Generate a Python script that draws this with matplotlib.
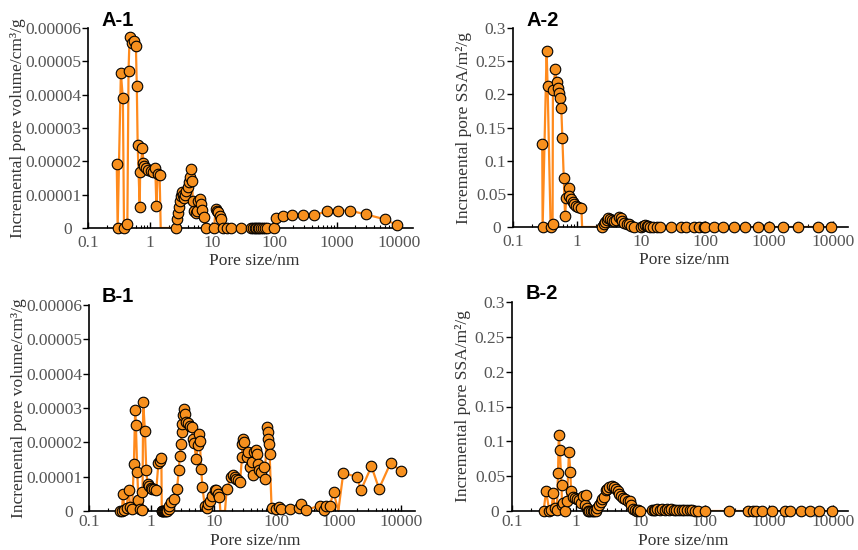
import matplotlib
matplotlib.use("Agg")
import matplotlib.pyplot as plt
import matplotlib.transforms as mtransforms
import numpy as np

# ---- data (pore size in nm) ----
# A-1: incremental pore volume (x1e-5 cm3/g)
a1_size = [0.29, 0.30, 0.338, 0.364, 0.38, 0.43, 0.449, 0.467, 0.51, 0.56, 0.59, 0.61,
           0.63, 0.68, 0.69, 0.75, 0.78, 0.80, 0.87, 0.94, 1.03, 1.11, 1.21, 1.26, 1.32, 1.42,
           2.56, 2.66, 2.78, 2.9, 3.0, 3.1, 3.2, 3.36, 3.5, 3.6, 3.75, 4.04, 4.2, 4.36, 4.59,
           4.75, 4.85, 5.1, 5.4, 5.7, 6.0, 6.3, 6.6, 6.9, 7.3, 7.8,
           10.7, 11.3, 11.8, 12.5, 13.2, 13.9, 15, 17, 19.8, 28.7,
           41.8, 45, 48, 51, 54, 57, 60, 65, 70, 75, 97.5,
           105, 140, 190, 290, 430, 690, 1050, 1640, 2960, 6000, 9500]
a1_vol = [1.93, 0, 4.65, 3.89, 0, 0.12, 4.72, 5.72, 5.55, 5.62, 5.45, 4.25,
          2.49, 0.64, 1.67, 2.39, 1.96, 1.85, 1.79, 1.74, 1.71, 1.69, 1.79, 0.67, 1.61, 1.59,
          0, 0.27, 0.44, 0.62, 0.82, 0.97, 1.07, 1.0, 0.9, 1.0, 1.1, 1.22, 1.37, 1.52, 1.78,
          1.40, 0.82, 0.5, 0.45, 0.52, 0.8, 0.87, 0.72, 0.55, 0.32, 0,
          0, 0.57, 0.52, 0.48, 0.37, 0.27, 0, 0, 0, 0,
          0, 0, 0, 0, 0, 0, 0, 0, 0, 0, 0,
          0.31, 0.36, 0.38, 0.40, 0.38, 0.50, 0.52, 0.52, 0.41, 0.26, 0.08]
a1_drop = [1.48]

# A-2: incremental pore SSA (m2/g)
a2_size = [0.286, 0.29, 0.335, 0.347, 0.387, 0.415, 0.42, 0.46, 0.48, 0.50, 0.53, 0.545,
           0.567, 0.59, 0.62, 0.65, 0.68, 0.74, 0.76, 0.8, 0.85, 0.9, 0.96, 1.02, 1.17,
           2.45, 2.6, 2.75, 2.9, 3.05, 3.25, 3.5, 3.8, 4.1, 4.5, 4.8, 5.1, 5.5, 6.0, 6.5,
           7.0, 7.7, 10, 10.8, 11.5, 12.2, 13, 14, 15.5, 18, 20, 29, 42, 50, 68, 81, 95,
           100, 138, 193, 280, 420, 660, 1000, 1650, 2800, 5800, 9100]
a2_ssa = [0.125, 0, 0.265, 0.212, 0, 0.004, 0.207, 0.238, 0.219, 0.21, 0.202, 0.194,
          0.18, 0.134, 0.074, 0.017, 0.044, 0.059, 0.047, 0.042, 0.037, 0.034, 0.032, 0.030, 0.028,
          0, 0.004, 0.008, 0.011, 0.013, 0.012, 0.010, 0.009, 0.011, 0.015, 0.013, 0.009, 0.006,
          0.005, 0.004, 0.002, 0, 0, 0.002, 0.003, 0.002, 0.001, 0, 0, 0, 0, 0, 0, 0, 0, 0, 0,
          0, 0, 0, 0, 0, 0, 0, 0, 0, 0, 0]
a2_drop = [1.2]

# B-1: incremental pore volume (x1e-5 cm3/g)
b1_size = [0.32, 0.339, 0.35, 0.37, 0.40, 0.435, 0.46, 0.49, 0.525, 0.55, 0.565, 0.595,
           0.62, 0.65, 0.70, 0.72, 0.74, 0.79, 0.83, 0.87, 0.93, 0.98, 1.04, 1.12, 1.2,
           1.3, 1.39, 1.45, 1.47, 1.5, 1.55, 1.6, 1.65, 1.7, 1.8, 1.9, 1.95, 2.1, 2.3,
           2.58, 2.76, 2.85, 3.0, 3.05, 3.1, 3.2, 3.35, 3.5, 3.65, 3.9, 4.2, 4.5, 4.6, 4.9,
           5.2, 5.6, 5.8, 6.0, 6.3, 6.6, 7.2, 7.7, 8.1, 8.8, 9.5, 10.4, 11.1, 11.9, 12.4,
           16.2, 19.0, 20.8, 21.8, 23, 25, 26.5, 28.5, 29, 30, 31, 33.7, 36, 38.7, 41.5,
           43, 44, 47, 50, 52, 53, 58, 64, 66, 72, 74, 75, 76, 79,
           85, 99, 110, 120, 165, 230, 250, 300, 500, 600, 640, 730, 840,
           1200, 2000, 2300, 3400, 4500, 6900, 10000]
b1_vol = [0, 0, 0.50, 0.04, 0.1, 0.60, 0.12, 0.05, 1.36, 2.93, 2.51, 1.14,
          0.31, 0.05, 0.55, 0.02, 3.17, 2.32, 1.18, 0.78, 0.72, 0.68, 0.64, 0.63, 0.62,
          1.40, 1.47, 1.54, 0, 0, 0, 0, 0, 0, 0, 0.05, 0.16, 0.26, 0.36,
          0.65, 1.18, 1.59, 1.94, 2.30, 2.54, 2.79, 2.98, 2.83, 2.6, 2.55, 2.47, 2.45, 2.1, 1.98,
          1.52, 1.91, 2.25, 2.04, 1.23, 0.7, 0.14, 0.1, 0.2, 0.3, 0.45, 0.6, 0.6, 0.5, 0.4,
          0.65, 0.99, 1.04, 0.99, 0.94, 0.89, 0.84, 1.57, 1.96, 2.1, 2.0, 1.57, 1.72, 1.28, 1.43,
          1.04, 1.72, 1.77, 1.67, 1.38, 1.2, 1.14, 1.28, 0.94, 2.45, 2.30, 2.1, 1.96, 1.67,
          0.1, 0.07, 0.12, 0.07, 0.07, 0.1, 0.19, 0.02, 0.16, 0.04, 0.16, 0.16, 0.55,
          1.1, 1.0, 0.6, 1.3, 0.65, 1.4, 1.17]
b1_drop = [12.8, 15.2, 1000]

# B-2: incremental pore SSA (m2/g)
b2_size = [0.31, 0.34, 0.38, 0.41, 0.44, 0.46, 0.5, 0.52, 0.535, 0.555, 0.59, 0.60,
           0.63, 0.66, 0.72, 0.77, 0.81, 0.83, 0.88, 0.95, 1.02, 1.1, 1.2, 1.29, 1.35, 1.4,
           1.45, 1.5, 1.6, 1.7, 1.8, 1.9, 2.0, 2.1, 2.25, 2.4, 2.55, 2.7, 2.9, 3.05, 3.25,
           3.55, 3.9, 4.15, 4.4, 4.7, 5.0, 5.4, 5.8, 6.3, 6.8, 7.2, 7.7, 8.2, 8.7, 9.2, 10,
           15, 16, 17, 18, 20, 22, 24, 26, 28, 30, 33, 36, 40, 44, 48, 53, 58, 64, 70, 78,
           100, 240, 480, 560, 630, 780, 1100, 1800, 2100, 3100, 4300, 6100, 9600]
b2_ssa = [0, 0.029, 0, 0.002, 0.026, 0.005, 0.002, 0.054, 0.109, 0.088, 0.037, 0.008,
          0.012, 0, 0.015, 0.085, 0.056, 0.028, 0.02, 0.018, 0.017, 0.016, 0.012, 0.021, 0.008, 0.023,
          0.005, 0, 0, 0, 0, 0, 0, 0.005, 0.009, 0.013, 0.017, 0.02, 0.03, 0.032, 0.034,
          0.036, 0.035, 0.031, 0.028, 0.025, 0.022, 0.019, 0.017, 0.015, 0.014, 0.008, 0.003, 0.001, 0, 0.002, 0,
          0.001, 0.002, 0.002, 0.003, 0.002, 0.003, 0.002, 0.003, 0.002, 0.003, 0.002, 0.002, 0.001, 0.002,
          0.001, 0.001, 0.001, 0.001, 0, 0,
          0, 0, 0, 0, 0, 0, 0, 0, 0, 0, 0, 0, 0]
b2_drop = []

vol_ticks = [0, 1e-5, 2e-5, 3e-5, 4e-5, 5e-5, 6e-5]
vol_labels = ['0', '0.00001', '0.00002', '0.00003', '0.00004', '0.00005', '0.00006']
ssa_ticks = [0, 0.05, 0.1, 0.15, 0.2, 0.25, 0.3]
ssa_labels = ['0', '0.05', '0.1', '0.15', '0.2', '0.25', '0.3']
x_ticks = [0.1, 1, 10, 100, 1000, 10000]
x_labels = ['0.1', '1', '10', '100', '1000', '10000']

LINE = '#FF8A1C'
FILL = '#F7901E'
TICK_C = '#555555'
LAB_C = '#333333'
SERIF = 'Liberation Serif'


def draw_panel(rect, size, vals, drops, ymax, yticks, ylabels, ylabel, tag,
               ylab_x, xlab_y, xpad, zero_shift):
    ax = fig.add_axes(rect)
    size = np.array(size, dtype=float)
    vals = np.array(vals, dtype=float)
    # line passes through data points plus bare drop-to-zero vertices
    lx = np.concatenate([size, np.array(drops, dtype=float)])
    ly = np.concatenate([vals, np.zeros(len(drops))])
    order = np.argsort(lx, kind='stable')
    ax.plot(lx[order], ly[order], color=LINE, lw=1.6, zorder=2)
    ax.plot(size, vals, ls='none', marker='o', ms=7.6, mfc=FILL, mec='black',
            mew=0.8, zorder=3, clip_on=False)
    ax.set_xscale('log')
    ax.set_xlim(0.1, 17000)
    ax.set_ylim(0, ymax)
    ax.set_xticks(x_ticks)
    ax.set_xticklabels(x_labels)
    ax.set_yticks(yticks)
    ax.set_yticklabels(ylabels)
    for s in ['top', 'right']:
        ax.spines[s].set_visible(False)
    for s in ['left', 'bottom']:
        ax.spines[s].set_linewidth(1.2)
        ax.spines[s].set_zorder(2.5)
    ax.tick_params(axis='y', direction='out', length=4, width=1.0,
                   labelsize=12.5, labelcolor=TICK_C, pad=1)
    ax.tick_params(axis='x', which='major', direction='in', length=4, width=1.0,
                   labelsize=12.5, labelcolor=TICK_C, pad=xpad)
    ax.tick_params(axis='x', which='minor', direction='in', length=2.5, width=0.8)
    for lab in ax.get_xticklabels() + ax.get_yticklabels():
        lab.set_fontfamily(SERIF)
    # the "0" on the y axis sits a little further left, as in the original
    zero_lab = ax.yaxis.get_major_ticks()[0].label1
    zero_lab.set_transform(zero_lab.get_transform() +
                           mtransforms.ScaledTranslation(-zero_shift / 100, 0, fig.dpi_scale_trans))
    ax.set_xlabel('Pore size/nm', fontsize=12.5, family=SERIF, color=LAB_C)
    ax.set_ylabel(ylabel, fontsize=12.5, family=SERIF, color=LAB_C)
    ax.xaxis.set_label_coords(0.51, xlab_y)
    ax.yaxis.set_label_coords(ylab_x, 0.5)
    ax.text(0.04, 1.04, tag, transform=ax.transAxes, fontsize=14.5, fontweight='bold',
            family='Liberation Sans', va='center', ha='left', color='black')
    return ax


fig = plt.figure(figsize=(8.58, 5.5), dpi=100)

W, H = 858.0, 550.0
draw_panel([88 / W, 1 - 228 / H, 325 / W, 200 / H], a1_size, np.array(a1_vol) * 1e-5, a1_drop,
           6e-5, vol_ticks, vol_labels, 'Incremental pore volume/cm³/g', 'A-1',
           -0.19, -0.125, 5, 9)
draw_panel([513 / W, 1 - 227 / H, 335 / W, 199 / H], a2_size, a2_ssa, a2_drop,
           0.3, ssa_ticks, ssa_labels, 'Incremental pore SSA/m²/g', 'A-2',
           -0.122, -0.125, 5, 5)
draw_panel([89 / W, 1 - 511 / H, 326 / W, 206 / H], b1_size, np.array(b1_vol) * 1e-5, b1_drop,
           6e-5, vol_ticks, vol_labels, 'Incremental pore volume/cm³/g', 'B-1',
           -0.19, -0.108, 2.5, 9)
draw_panel([512 / W, 1 - 511 / H, 336 / W, 209 / H], b2_size, b2_ssa, b2_drop,
           0.3, ssa_ticks, ssa_labels, 'Incremental pore SSA/m²/g', 'B-2',
           -0.122, -0.106, 2.5, 6)

fig.savefig('out.png', dpi=100)
